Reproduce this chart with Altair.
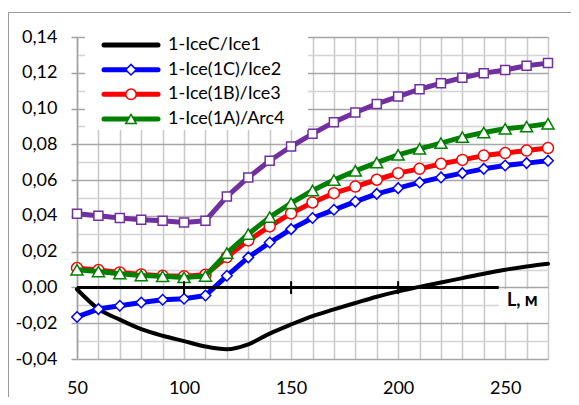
import altair as alt
import pandas as pd

# ---------------- data ----------------
L_m = [50, 60, 70, 80, 90, 100, 110, 120, 130, 140, 150, 160,
       170, 180, 190, 200, 210, 220, 230, 240, 250, 260, 270]

ice1 = [-0.0010, -0.0120, -0.0180, -0.0233, -0.0270, -0.0300, -0.0330, -0.0345,
        -0.0318, -0.0258, -0.0207, -0.0160, -0.0123, -0.0087, -0.0052, -0.0022,
        0.0003, 0.0028, 0.0052, 0.0077, 0.0099, 0.0117, 0.0132]
ice2 = [-0.0165, -0.0121, -0.0102, -0.0084, -0.0069, -0.0063, -0.0045, 0.0065,
        0.0168, 0.0251, 0.0326, 0.0388, 0.0434, 0.0480, 0.0523, 0.0555,
        0.0587, 0.0615, 0.0639, 0.0663, 0.0682, 0.0695, 0.0708]
ice3 = [0.0108, 0.0097, 0.0084, 0.0073, 0.0065, 0.0062, 0.0071, 0.0170,
        0.0263, 0.0341, 0.0414, 0.0475, 0.0527, 0.0564, 0.0602, 0.0639,
        0.0663, 0.0691, 0.0713, 0.0737, 0.0751, 0.0765, 0.0779]
arc4 = [0.0099, 0.0089, 0.0077, 0.0067, 0.0062, 0.0056, 0.0064, 0.0192,
        0.0298, 0.0393, 0.0471, 0.0542, 0.0600, 0.0652, 0.0698, 0.0741,
        0.0775, 0.0807, 0.0840, 0.0866, 0.0887, 0.0899, 0.0915]
ser5 = [0.0412, 0.0401, 0.0388, 0.0378, 0.0373, 0.0363, 0.0373, 0.0508,
        0.0615, 0.0708, 0.0788, 0.0859, 0.0924, 0.0978, 0.1026, 0.1067,
        0.1108, 0.1142, 0.1172, 0.1198, 0.1216, 0.1239, 0.1254]

names = ["1-IceC/Ice1", "1-Ice(1C)/Ice2", "1-Ice(1B)/Ice3", "1-Ice(1A)/Arc4"]
x_ticks = list(range(50, 271, 10))
y_ticks = [round(-0.04 + 0.01 * i, 2) for i in range(19)]
axis_ticks_L = [100, 150, 200]
axis_label = "L, м"

# ---------------- styles ----------------
colors = ["#000000", "#0000ff", "#ff0000", "#008000", "#7030a0"]
shapes = [None, "diamond", "circle", "triangle-up", "square"]
sizes = [0, 110, 121, 144, 81]
widths = [4, 5, 5, 5, 5]
FONT = "Lato"

x_scale = alt.Scale(domain=[50, 270], nice=False, zero=False)
y_scale = alt.Scale(domain=[-0.04, 0.14], nice=False, zero=False)

even = "abs(round(datum.value*100)) % 2 == 0"
x_axis = alt.Axis(values=x_ticks, labelExpr="datum.value % 50 == 0 ? datum.label : ''",
                  ticks=False, tickSize=0, domain=False, grid=True, labelFlush=False,
                  gridColor="#c8c8c8", gridWidth=1.5, labelPadding=20,
                  labelFont=FONT, labelFontSize=18, labelColor="black", title=None)
y_axis = alt.Axis(values=y_ticks,
                  labelExpr=even + " ? (datum.value < -0.0001 ? '-' : '') + "
                            "replace(format(abs(datum.value), '.2f'), '.', ',') : ''",
                  grid=True, labelFlush=False,
                  gridColor={"condition": {"test": even, "value": "#a6a6a6"}, "value": "#d4d4d4"},
                  gridWidth=1.5, domainColor="#a0a0a0", domainWidth=1.5,
                  tickColor={"condition": {"test": even, "value": "#a0a0a0"}, "value": "transparent"},
                  tickSize=6, tickWidth=1.5, labelPadding=14,
                  labelFont=FONT, labelFontSize=18, labelColor="black", title=None)

X = alt.X("L:Q", scale=x_scale, axis=x_axis)
Y = alt.Y("v:Q", scale=y_scale, axis=y_axis)

layers = []

# white box behind the axis label
lab_box = pd.DataFrame({"L": [247], "L2": [270], "v": [-0.0008], "v2": [-0.0195]})
layers.append(alt.Chart(lab_box).mark_rect(fill="white").encode(x=X, x2="L2:Q", y=Y, y2="v2:Q"))

# data series
series = [ice1, ice2, ice3, arc4, ser5]
for i, vals in enumerate(series):
    df = pd.DataFrame({"L": L_m, "v": vals})
    layers.append(alt.Chart(df).mark_line(
        color=colors[i], strokeWidth=widths[i], strokeJoin="round", strokeCap="round",
        interpolate="monotone" if i == 0 else "linear").encode(x=X, y=Y))
    if shapes[i]:
        layers.append(alt.Chart(df).mark_point(
            shape=shapes[i], size=sizes[i], filled=True, fill="white", stroke=colors[i],
            strokeWidth=1.5, opacity=1).encode(x=X, y=Y))

# bold horizontal axis at 0 with ticks
zero = pd.DataFrame({"L": [50], "L2": [247], "v": [0.0]})
layers.append(alt.Chart(zero).mark_rule(color="black", strokeWidth=3).encode(x=X, x2="L2:Q", y=Y))
tk = pd.DataFrame({"L": axis_ticks_L, "v": [0.0035] * 3, "v2": [-0.0037] * 3})
layers.append(alt.Chart(tk).mark_rule(color="black", strokeWidth=2).encode(x=X, y=Y, y2="v2:Q"))
lab = pd.DataFrame({"L": [258], "v": [-0.0078], "t": [axis_label]})
layers.append(alt.Chart(lab).mark_text(font=FONT, fontSize=18, fontWeight="bold", color="black",
                                       align="center", baseline="middle").encode(x=X, y=Y, text="t:N"))

main = alt.layer(*layers)

# ---------------- legend (manual, no purple entry) ----------------
leg_df = pd.DataFrame({"name": names})
yenc = alt.Y("name:N", scale=alt.Scale(type="point", domain=names, range=[8, 82], padding=0), axis=None)
one = pd.DataFrame({"a": [0]})
box = alt.Chart(one).mark_rect(fill="white").encode(
    x=alt.value(8), x2=alt.value(231), y=alt.value(-3), y2=alt.value(93))
leg_lines = alt.Chart(leg_df).mark_rule(strokeWidth=5, strokeCap="round").encode(
    x=alt.value(27), x2=alt.value(81), y=yenc,
    color=alt.Color("name:N", scale=alt.Scale(domain=names, range=colors[:4]), legend=None))
leg_pts = alt.Chart(leg_df.iloc[1:]).mark_point(filled=True, fill="white", strokeWidth=1.5,
                                                 opacity=1, size=110).encode(
    x=alt.value(54), y=yenc,
    stroke=alt.Stroke("name:N", scale=alt.Scale(domain=names[1:], range=colors[1:4]), legend=None),
    shape=alt.Shape("name:N", scale=alt.Scale(domain=names[1:], range=shapes[1:4]), legend=None))
leg_text = alt.Chart(leg_df).mark_text(align="left", baseline="middle", font=FONT, fontSize=18,
                                       color="black").encode(x=alt.value(91), y=yenc, text="name:N")
# chart-area border (top and left edges visible)
border_top = alt.Chart(one).mark_rule(color="#9a9a9a", strokeWidth=1).encode(
    x=alt.value(-68.5), x2=alt.value(494), y=alt.value(-24.5))
border_left = alt.Chart(one).mark_rule(color="#9a9a9a", strokeWidth=1).encode(
    x=alt.value(-68.5), y=alt.value(-24.5), y2=alt.value(360))

legend = alt.layer(box, leg_lines, leg_pts, leg_text, border_top, border_left)

chart = alt.layer(main, legend).resolve_scale(
    y="independent", color="independent", stroke="independent", shape="independent"
).properties(
    width=471, height=322,
    autosize=alt.AutoSizeParams(type="none"),
    padding={"left": 69, "top": 29, "right": 23, "bottom": 38},
).configure_view(strokeWidth=0).configure(font=FONT)

chart.save("out.html", embed_options={"renderer": "svg", "actions": False})
